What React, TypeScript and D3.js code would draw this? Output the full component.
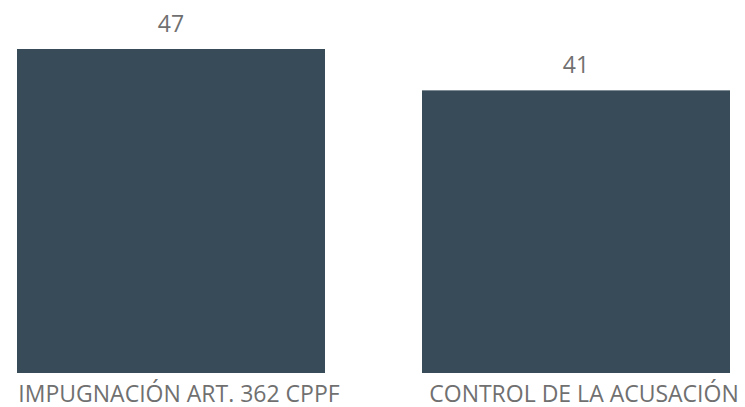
import * as d3 from 'd3';

const categories = ['IMPUGNACIÓN ART. 362 CPPF', 'CONTROL DE LA ACUSACIÓN'];
const values = [47, 41];

const width = 745;
const height = 407;
const margin = { top: 49, right: 15, bottom: 34, left: 17 };

const App = () => {
  const data = categories.map((c, i) => ({ label: c, value: values[i] }));

  const x = d3.scaleBand<string>()
    .domain(categories)
    .range([margin.left, width - margin.right])
    .paddingInner(0.2395)
    .paddingOuter(0);

  const y = d3.scaleLinear()
    .domain([0, d3.max(values) as number])
    .range([height - margin.bottom, margin.top]);

  return (
    <svg
      width={width}
      height={height}
      style={{ position: 'absolute', left: 0, top: 0, fontFamily: '"Open Sans", sans-serif' }}
    >
      {data.map(d => (
        <g key={d.label}>
          <rect
            x={x(d.label)}
            y={y(d.value)}
            width={x.bandwidth()}
            height={y(0) - y(d.value)}
            fill="#374b59"
          />
          <text
            x={(x(d.label) as number) + x.bandwidth() / 2}
            y={y(d.value) - 17}
            textAnchor="middle"
            fontSize={23}
            fill="#707070"
          >
            {d.value}
          </text>
          {/* category labels sit a little right of the bar centre */}
          <text
            x={(x(d.label) as number) + x.bandwidth() / 2 + 8}
            y={401.5}
            textAnchor="middle"
            fontSize={23}
            fill="#707070"
          >
            {d.label}
          </text>
        </g>
      ))}
    </svg>
  );
};

export default App;
